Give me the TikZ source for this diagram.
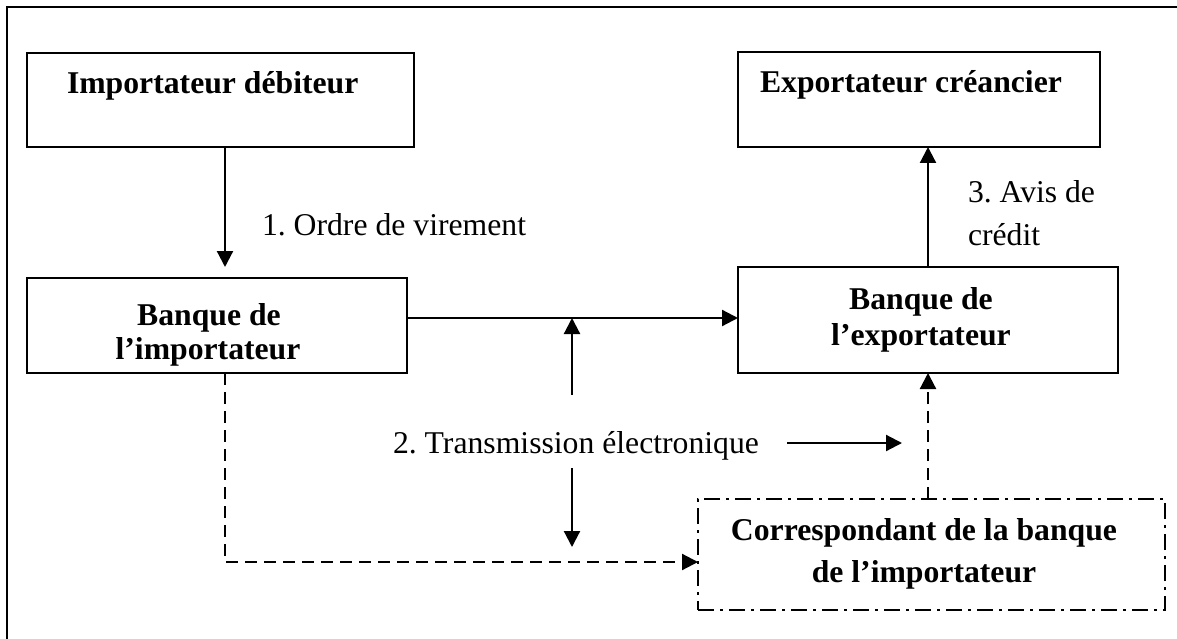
\documentclass[tikz,border=0pt]{standalone}
\usepackage{fontspec}
\setmainfont{Liberation Serif}
\usetikzlibrary{arrows.meta}
\frenchspacing

\begin{document}
\begin{tikzpicture}[x=1pt,y=-1pt,
  txt/.style={inner sep=0pt,outer sep=0pt,font=\fontsize{31.7}{36}\selectfont},
  btxt/.style={txt,font=\fontsize{31.7}{36}\selectfont\bfseries},
  box/.style={draw,line width=2.2pt,rectangle,inner sep=0pt,outer sep=0pt},
  tip/.tip={Triangle[length=16pt,width=16pt]},
  arr/.style={line width=2.2pt,-tip},
  dsh/.style={line width=2.2pt,dash pattern=on 12pt off 7pt,-tip},
  dashdot/.style={dash pattern=on 16pt off 6pt on 3pt off 6pt}
]
\useasboundingbox (0,0) rectangle (1177,639);

% outer frame (open on the right and at the bottom)
\draw[line width=2.5pt] (7,639) -- (7,7) -- (1177,7);

% boxes
\node[box,minimum width=387pt,minimum height=94pt]  (imp)  at (220.5,100) {};
\node[box,minimum width=380pt,minimum height=95pt]  (bimp) at (217,325.5) {};
\node[box,minimum width=362pt,minimum height=95pt]  (exp)  at (919,99.5) {};
\node[box,minimum width=380pt,minimum height=106pt] (bexp) at (928,320) {};
\node[box,dashdot,minimum width=467pt,minimum height=111pt] (corr) at (931.5,554.5) {};

% box texts
\node[btxt,anchor=base west] (timp) at (67,94) {Importateur débiteur};
\node[btxt,anchor=base west] (texp) at (760,93) {Exportateur créancier};
\node[btxt,anchor=base] (tbimp1) at (209,325) {Banque de};
\node[btxt,anchor=base] (tbimp2) at (208,359) {l’importateur};
\node[btxt,anchor=base] (tbexp1) at (921,309) {Banque de};
\node[btxt,anchor=base] (tbexp2) at (921,345) {l’exportateur};
\node[btxt,anchor=base] (tcorr1) at (924,540) {Correspondant de la banque};
\node[btxt,anchor=base] (tcorr2) at (924,582) {de l’importateur};

% step labels
\node[txt,anchor=base west] (l1) at (262,235) {1. Ordre de virement};
\node[txt,anchor=base west] (l2) at (393,453) {2. Transmission électronique};
\node[txt,anchor=base west] (l3a) at (968,203) {3. Avis de};
\node[txt,anchor=base west] (l3b) at (968,245) {crédit};

% helper coordinates
\coordinate (cx225) at (225,0);
\coordinate (ly318) at (0,318);
\coordinate (ly562) at (0,562);
\coordinate (up0) at (572,395);
\coordinate (up1) at (572,318);
\coordinate (dn0) at (572,468);
\coordinate (dn1) at (572,547);
\coordinate (rt0) at (787,443);
\coordinate (rt1) at (902,443);

% 1. order
\draw[arr,shorten >=11pt] (imp.south -| cx225) -- (bimp.north -| cx225);
% 2. electronic transfer between the banks
\draw[arr] (bimp.east |- ly318) -- (bexp.west |- ly318);
\draw[arr] (up0) -- (up1);
\draw[arr] (dn0) -- (dn1);
\draw[arr] (rt0) -- (rt1);
% path via the correspondent
\draw[dsh] (bimp.south -| cx225) -- (cx225 |- ly562) -- (corr.west |- ly562);
\draw[dsh] (corr.north -| bexp.south) -- (bexp.south);
% 3. credit advice
\draw[arr] (bexp.north) -- (exp.south -| bexp.north);
\end{tikzpicture}
\end{document}
